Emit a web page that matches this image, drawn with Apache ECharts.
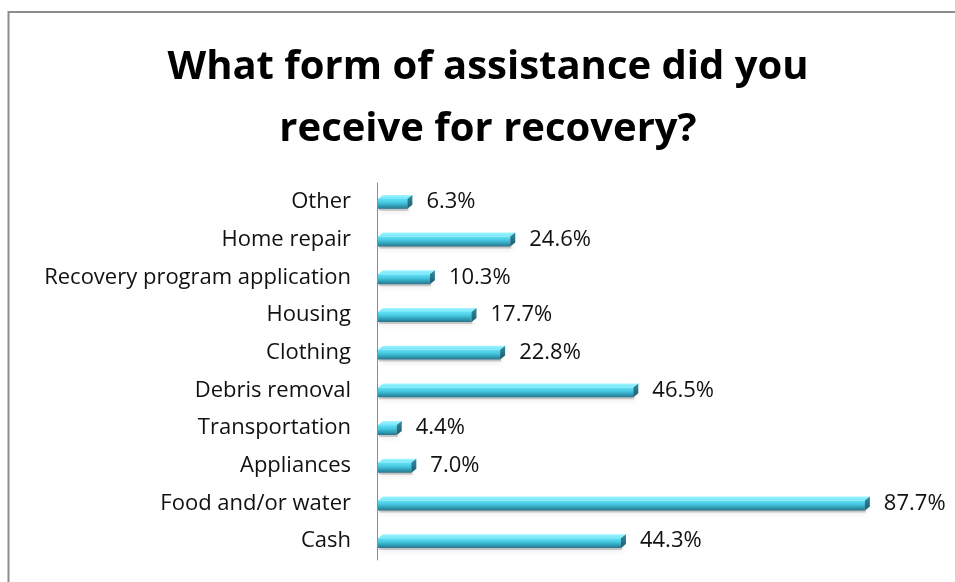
<!DOCTYPE html>
<html>
<head>
<meta charset="utf-8">
<script src="https://cdn.jsdelivr.net/npm/echarts@6/dist/echarts.min.js"></script>
<style>
  html, body { margin: 0; padding: 0; background: #fff; }
  #chart { width: 955px; height: 582px; }
</style>
</head>
<body>
<div id="chart"></div>
<script>
// Survey answers, listed bottom to top as they appear on the category axis
const categories = [
  'Cash', 'Food and/or water', 'Appliances', 'Transportation', 'Debris removal',
  'Clothing', 'Housing', 'Recovery program application', 'Home repair', 'Other'
];
const percentValues = [44.3, 87.7, 7.0, 4.4, 46.5, 22.8, 17.7, 10.3, 24.6, 6.3];
const titleLines = ['What form of assistance did you', 'receive for recovery?'];

const FONT = '"Open Sans", "Noto Sans", sans-serif';

// 3D-looking horizontal box bar: front face, top face, right end face and soft shadow
function renderBox(params, api) {
  const idx = api.value(1);
  const val = api.value(0);
  const start = api.coord([0, idx]);
  const end = api.coord([val, idx]);
  const band = api.size([0, 1])[1];
  const h = band * 0.37;
  const dx = 5, dy = 4;
  const x0 = start[0] + 1, x1 = end[0];
  const top = start[1] - h / 2, bottom = start[1] + h / 2;
  const frontTop = top + dy;
  const frontRight = Math.max(x0, x1 - dx);

  return {
    type: 'group',
    children: [
      {
        type: 'rect',
        shape: { x: x0 + 1, y: frontTop + 2, width: frontRight - x0, height: bottom - frontTop },
        style: { fill: 'rgba(0,0,0,0.18)', shadowBlur: 5, shadowColor: 'rgba(0,0,0,0.35)', shadowOffsetX: 1, shadowOffsetY: 2 },
        z2: 0
      },
      {
        type: 'rect',
        shape: { x: x0, y: frontTop, width: frontRight - x0, height: bottom - frontTop },
        style: {
          fill: new echarts.graphic.LinearGradient(0, 0, 0, 1, [
            { offset: 0, color: '#62e0f4' },
            { offset: 0.35, color: '#48cae2' },
            { offset: 0.7, color: '#2f9fb8' },
            { offset: 1, color: '#2a7388' }
          ])
        },
        z2: 1
      },
      {
        type: 'polygon',
        shape: { points: [[x0, frontTop], [x0 + dx, top], [x1, top], [frontRight, frontTop]] },
        style: {
          fill: new echarts.graphic.LinearGradient(0, 0, 0, 1, [
            { offset: 0, color: '#a3f5ff' },
            { offset: 1, color: '#70e6f8' }
          ])
        },
        z2: 2
      },
      {
        type: 'polygon',
        shape: { points: [[frontRight, frontTop], [x1, top], [x1, bottom - dy], [frontRight, bottom]] },
        style: {
          fill: new echarts.graphic.LinearGradient(0, 0, 0, 1, [
            { offset: 0, color: '#2f8ea6' },
            { offset: 1, color: '#1f5a6c' }
          ])
        },
        z2: 2
      }
    ]
  };
}

const chart = echarts.init(document.getElementById('chart'), null, { renderer: 'canvas' });

chart.setOption({
  backgroundColor: '#ffffff',
  animation: false,
  graphic: [
    {
      type: 'rect',
      shape: { x: 8.5, y: 12, width: 2000, height: 2000 },
      style: { fill: 'none', stroke: '#8c8c8c', lineWidth: 2 },
      z: -1
    },
    {
      type: 'text',
      style: {
        text: titleLines.join('\n'),
        x: 488, y: 37,
        textAlign: 'center',
        font: 'bold 40px ' + FONT,
        lineHeight: 62,
        fill: '#000'
      }
    }
  ],
  grid: { left: 377, right: 16, top: 183, bottom: 22, containLabel: false },
  xAxis: {
    type: 'value',
    min: 0,
    max: 100,
    show: false
  },
  yAxis: {
    type: 'category',
    data: categories,
    axisLine: { show: true, lineStyle: { color: '#8c8c8c', width: 1 } },
    axisTick: { show: false },
    axisLabel: { color: '#111', fontFamily: FONT, fontSize: 22, margin: 26, padding: [6, 0, 0, 0] },
    splitLine: { show: false }
  },
  series: [
    {
      type: 'custom',
      renderItem: renderBox,
      encode: { x: 0, y: 1 },
      data: percentValues.map((v, i) => [v, i]),
      label: { show: false }
    },
    {
      // transparent bars only carrying the value labels
      type: 'bar',
      data: percentValues,
      barWidth: 14,
      itemStyle: { color: 'rgba(0,0,0,0)' },
      label: {
        show: true,
        position: 'right',
        distance: 14,
        color: '#111',
        fontFamily: FONT,
        fontSize: 22,
        padding: [6, 0, 0, 0],
        formatter: p => p.value.toFixed(1) + '%'
      },
      silent: true
    }
  ]
});
</script>
</body>
</html>
